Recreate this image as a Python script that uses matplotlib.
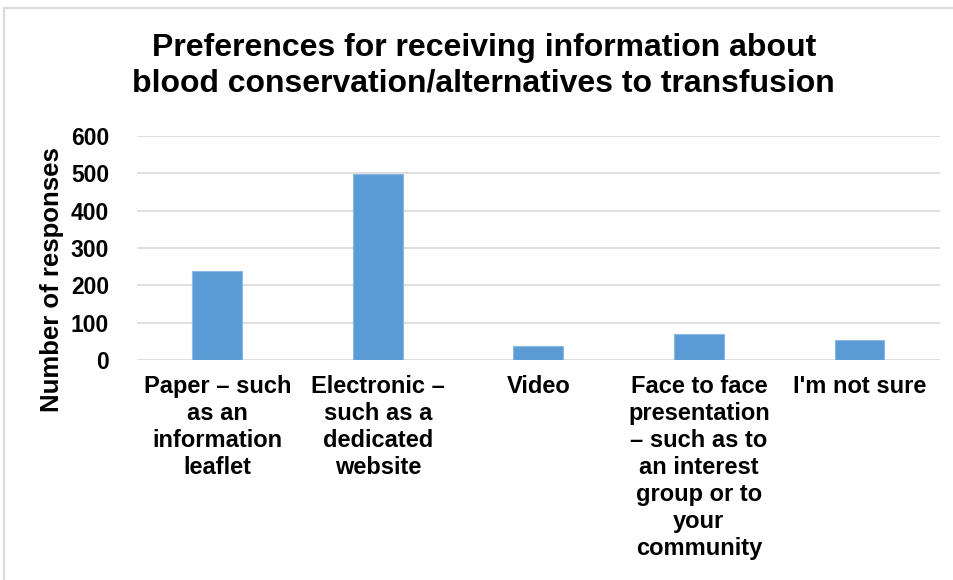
import matplotlib.pyplot as plt
from matplotlib.patches import Rectangle

# data
categories = [
    "Paper – such\nas an\ninformation\nleaflet",
    "Electronic –\nsuch as a\ndedicated\nwebsite",
    "Video",
    "Face to face\npresentation\n– such as to\nan interest\ngroup or to\nyour\ncommunity",
    "I'm not sure",
]
responses = [240, 497, 39, 71, 53]
y_ticks = [0, 100, 200, 300, 400, 500, 600]

plt.rcParams["font.family"] = ["Liberation Sans", "DejaVu Sans"]
plt.rcParams["font.weight"] = "bold"

fig = plt.figure(figsize=(9.54, 5.8), dpi=100)
ax = fig.add_axes([0.1436, 0.379, 0.8414, 0.3865])

x = range(len(categories))
ax.bar(x, responses, width=0.31, color="#5B9BD5", edgecolor="#8DB8E2", linewidth=0.8, zorder=3)

ax.set_ylim(0, 600)
ax.set_xlim(-0.5, len(categories) - 0.5)
ax.set_yticks(y_ticks)
ax.set_yticklabels([str(t) for t in y_ticks], fontsize=16.5, fontweight="bold")
ax.set_xticks(list(x))
ax.set_xticklabels(categories, fontsize=17, fontweight="bold", linespacing=1.22)
ax.tick_params(axis="both", length=0)
ax.tick_params(axis="y", pad=20)
ax.tick_params(axis="x", pad=11)
ax.grid(axis="y", color="#D9D9D9", linewidth=1.2, zorder=0)
for s in ax.spines.values():
    s.set_visible(False)

fig.text(0.055, 1 - 280 / 580, "Number of responses", rotation=90,
         ha="center", va="center", fontsize=18.5, fontweight="bold")
fig.text(0.507, 1 - 66 / 580,
         "Preferences for receiving information about\nblood conservation/alternatives to transfusion",
         ha="center", va="center", fontsize=23, fontweight="bold", linespacing=1.25)

# chart frame
fig.patches.append(Rectangle((4 / 954, -0.05), 1.1, 1 - 8 / 580 + 0.05,
                             transform=fig.transFigure, fill=False,
                             edgecolor="#D9D9D9", linewidth=1.5))

fig.savefig("out.png", dpi=100)
